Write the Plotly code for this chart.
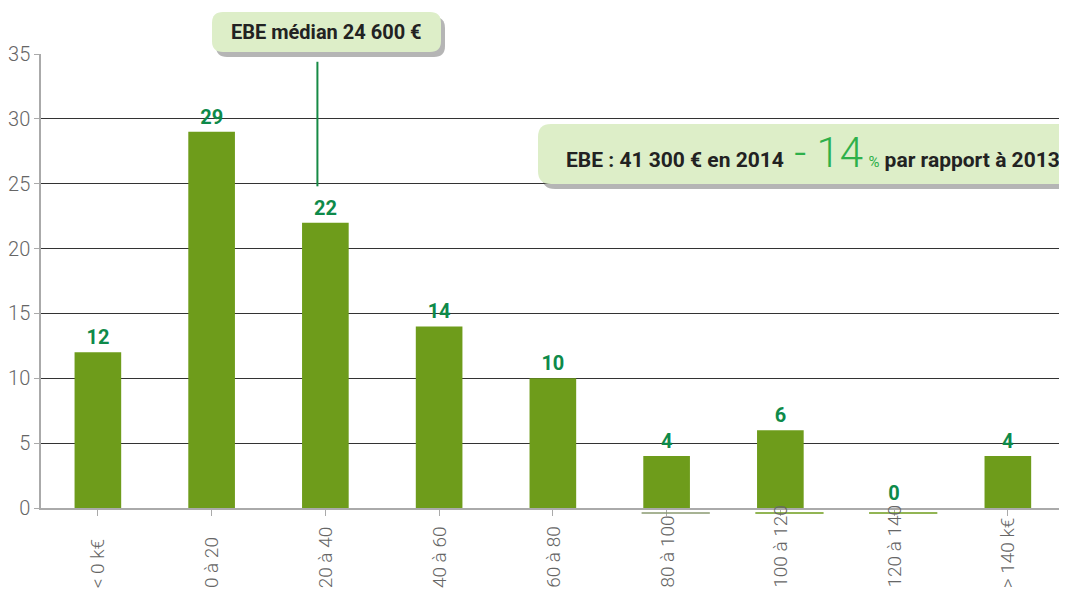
import plotly.graph_objects as go

categories = ["< 0 k€", "0 à 20", "20 à 40", "40 à 60", "60 à 80",
              "80 à 100", "100 à 120", "120 à 140", "> 140 k€"]
values = [12, 29, 22, 14, 10, 4, 6, 0, 4]
y_ticks = [0, 5, 10, 15, 20, 25, 30, 35]
median_label = "EBE médian 24 600 €"
median_pos = 1.93  # position on the category axis of the median marker

OFF = 8  # page body margin offset
W, H = 1067 - OFF, 583
L, R, T, B = 33, 0, 46, H - 500
PW, PH = W - L - R, H - T - B


def px(x):
    return (x - OFF - L) / PW


def py(y):
    return (H - B - (y - OFF)) / PH


def rrect(x0, y0, x1, y1, r):
    rx = r / PW
    ry = r / PH
    a, b, c, d = px(x0), py(y0), px(x1), py(y1)
    return (f"M {a+rx},{b} L {c-rx},{b} Q {c},{b} {c},{b-ry} "
            f"L {c},{d+ry} Q {c},{d} {c-rx},{d} L {a+rx},{d} "
            f"Q {a},{d} {a},{d+ry} L {a},{b-ry} Q {a},{b} {a+rx},{b} Z")


fig = go.Figure()
fig.add_trace(go.Bar(
    x=list(range(len(categories))), y=values,
    marker=dict(color="#6e9c1b", line=dict(width=0)),
    width=0.41,
    text=[str(v) for v in values], textposition="outside",
    textfont=dict(family="Roboto", size=20, color="#0e8a4a", weight="bold"),
    cliponaxis=False, hoverinfo="skip",
))

shapes = []
shapes.append(dict(type="line", xref="x", yref="y", x0=median_pos, x1=median_pos,
                   y0=24.8, y1=34.4, line=dict(color="#168a45", width=2)))
for (x0, y0, x1, y1, r) in [(212, 12, 441, 52, 11), (538, 124, 1085, 184, 13)]:
    shapes.append(dict(type="path", xref="paper", yref="paper",
                       path=rrect(x0 + 4, y0 + 5, x1 + 4, y1 + 5, r),
                       fillcolor="rgba(90,90,90,0.45)", line=dict(width=0), layer="above"))
    shapes.append(dict(type="path", xref="paper", yref="paper",
                       path=rrect(x0, y0, x1, y1, r),
                       fillcolor="#ddeec8", line=dict(width=0), layer="above"))
for i, col in [(5, "#8a9a70"), (6, "#6e9c1b"), (7, "#6e9c1b")]:
    shapes.append(dict(type="line", xref="x", yref="paper", x0=i - 0.22, x1=i + 0.38,
                       y0=py(513), y1=py(513), line=dict(color=col, width=1.5)))

annotations = [
    dict(xref="paper", yref="paper", x=px(326), y=py(32), text=f"<b>{median_label}</b>",
         showarrow=False, xanchor="center", yanchor="middle",
         font=dict(family="Roboto", size=20, color="#222")),
    dict(xref="paper", yref="paper", x=px(1062), y=py(152),
         text=("<b>EBE : 41 300 € en 2014</b>  "
               "<span style='font-size:42px;color:#2eb04a;font-weight:300'>- 14</span> "
               "<span style='font-size:15px;color:#2eb04a'>%</span> "
               "<b>par rapport à 2013</b>"),
         showarrow=False, xanchor="right", yanchor="middle",
         font=dict(family="Roboto", size=21, color="#222")),
]
for i, c in enumerate(categories):
    annotations.append(dict(xref="x", yref="paper", x=i, y=py(OFF + H - 1), text=c,
                            textangle=-90, showarrow=False, xanchor="center",
                            yanchor="bottom",
                            font=dict(family="Roboto", size=19, color="#666", weight=300)))

fig.update_layout(
    width=W, height=H, margin=dict(l=L, r=R, t=T, b=B),
    paper_bgcolor="white", plot_bgcolor="white",
    showlegend=False,
    shapes=shapes, annotations=annotations,
    xaxis=dict(range=[-0.5, 8.52], tickmode="array", tickvals=list(range(len(categories))),
               showticklabels=False, ticks="outside", tickson="boundaries",
               ticklen=6, tickcolor="#aaa", showline=True, linecolor="#aaa", linewidth=1.5,
               showgrid=False, zeroline=False, fixedrange=True),
    yaxis=dict(range=[0, 35], tickmode="array", tickvals=y_ticks,
               ticks="outside", ticklen=5, tickcolor="#aaa", showline=True,
               linecolor="#aaa", linewidth=1.5, showgrid=True, gridcolor="#333",
               gridwidth=1, zeroline=False, layer="above traces",
               tickfont=dict(family="Roboto", size=20, color="#666", weight=300),
               fixedrange=True),
)

fig.write_html("out.html")
